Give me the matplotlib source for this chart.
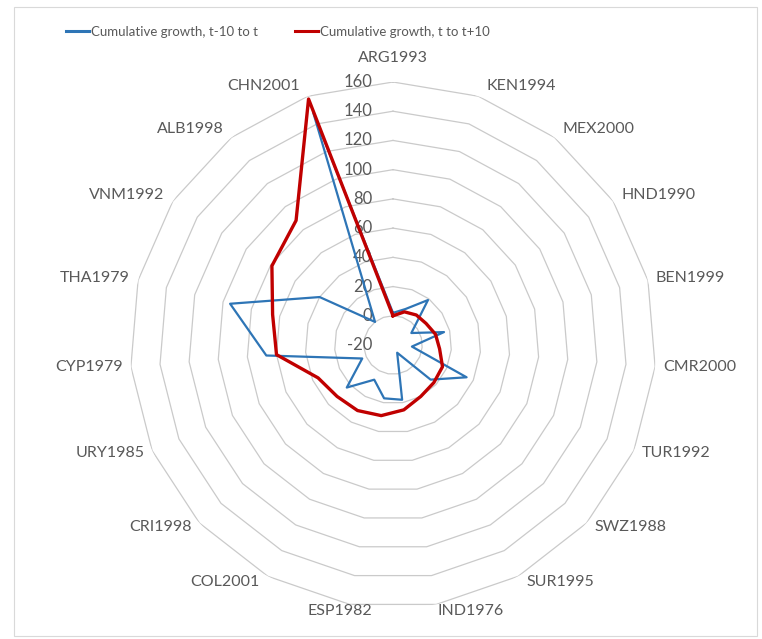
import numpy as np
import matplotlib
matplotlib.use("Agg")
import matplotlib.pyplot as plt
from matplotlib.patches import Rectangle

categories = ["ARG1993", "KEN1994", "MEX2000", "HND1990", "BEN1999", "CMR2000",
              "TUR1992", "SWZ1988", "SUR1995", "IND1976", "ESP1982", "COL2001",
              "CRI1998", "URY1985", "CYP1979", "THA1979", "VNM1992", "ALB1998",
              "CHN2001"]
growth_before = [2, 6, 19, -5, 16, -7, 35, 15, -14, 18, 17, 7, 23, 3, 67, 95, 40, 0, 148]
growth_after = [0, 4, 6, 7, 10, 12, 17, 18, 20, 25, 29, 31, 32, 36, 60, 65, 79, 88, 158]
series_names = ["Cumulative growth, t-10 to t", "Cumulative growth, t to t+10"]
r_ticks = [-20, 0, 20, 40, 60, 80, 100, 120, 140, 160]

plt.rcParams['font.family'] = ['Lato', 'DejaVu Sans']

W, H = 762, 639
fig = plt.figure(figsize=(W / 100, H / 100), dpi=100)
PX = 72 / 100  # points per pixel

cx, cy, rad = 393, 345, 263
ax = fig.add_axes([(cx - rad) / W, (H - cy - rad) / H, 2 * rad / W, 2 * rad / H],
                  projection='polar')
ax.set_theta_zero_location('N')
ax.set_theta_direction(-1)
ax.set_ylim(r_ticks[0], r_ticks[-1])
ax.grid(False)
ax.spines['polar'].set_visible(False)
ax.set_xticks([])
ax.set_yticks([])
ax.patch.set_alpha(0)

n = len(categories)
theta = np.arange(n) * 2 * np.pi / n
theta_c = np.append(theta, theta[0])

grid_col = '#cacaca'
for lv in r_ticks[1:]:
    ax.plot(theta_c, [lv] * (n + 1), color=grid_col, lw=0.9, zorder=1)

blue = '#2E75B6'
red = '#C00000'
ax.plot(theta_c, growth_before + growth_before[:1], color=blue, lw=1.6,
        label=series_names[0], zorder=3)
ax.plot(theta_c, growth_after + growth_after[:1], color=red, lw=2.4,
        label=series_names[1], zorder=4)

txt_col = '#595959'
for lv in r_ticks:
    ax.annotate(str(lv), xy=(0, lv), xytext=(-21 * PX, 0), textcoords='offset points',
                ha='right', va='center', fontsize=12, color=txt_col, zorder=2)

for t, name in zip(theta, categories):
    s, c = np.sin(t), np.cos(t)
    if abs(s) < 0.05:
        ha, dx, dy = 'center', 0, 24
    elif abs(s) < 0.2:
        ha, dx = 'center', np.sign(s) * 22 + 12
        dy = 7 * c
    else:
        ha = 'left' if s > 0 else 'right'
        dx = np.sign(s) * 8
        dy = 11 * c if c > 0 else 6 * c
    ax.annotate(name, xy=(t, r_ticks[-1]), xytext=(dx * PX, dy * PX),
                textcoords='offset points', ha=ha, va='center', fontsize=11.5,
                color=txt_col, annotation_clip=False)

leg = fig.legend(loc='center', bbox_to_anchor=(278 / W, 1 - 32 / H), ncol=2,
                 frameon=False, fontsize=9.5, handlelength=1.75, handletextpad=0.15,
                 columnspacing=2.8, labelcolor=txt_col)
for h in leg.get_lines():
    h.set_linewidth(2.2)

fig.patches.append(Rectangle((14 / W, 3 / H), (W - 19) / W, (H - 10) / H,
                             transform=fig.transFigure, fill=False,
                             edgecolor='#d9d9d9', lw=0.8))

fig.savefig('out.png', dpi=100)
